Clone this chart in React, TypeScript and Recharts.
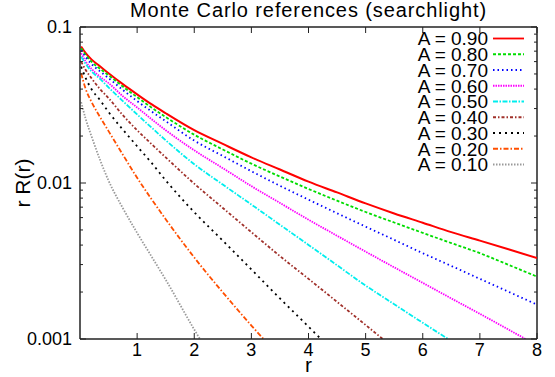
import React from 'react';
import { LineChart, Line, XAxis, YAxis, Legend, ReferenceLine } from 'recharts';

// radial distance r (shared by all curves)
const R = [0.02, 0.1, 0.2, 0.35, 0.5, 0.75, 1, 1.25, 1.5, 2, 2.5, 3, 3.5, 4, 4.5, 5, 5.5, 6, 6.5, 7, 7.5, 8];

// r R(r) for each albedo A (null = below the plot)
const A90 = [0.075, 0.068, 0.062, 0.056, 0.0505, 0.043, 0.037, 0.032, 0.028, 0.0218, 0.0178, 0.0146, 0.0122, 0.0102, 0.0087, 0.0074, 0.00638, 0.00556, 0.00484, 0.00427, 0.00376, 0.0033];
const A80 = [0.073, 0.066, 0.06, 0.054, 0.049, 0.0415, 0.0355, 0.0305, 0.0265, 0.0204, 0.0164, 0.0133, 0.011, 0.00916, 0.0077, 0.00652, 0.00558, 0.00479, 0.00412, 0.00355, 0.00299, 0.00251];
const A70 = [0.071, 0.064, 0.058, 0.052, 0.047, 0.0395, 0.0335, 0.0288, 0.0249, 0.0187, 0.0149, 0.0119, 0.0096, 0.00782, 0.0064, 0.00525, 0.00432, 0.00355, 0.00294, 0.00243, 0.00201, 0.00166];
const A60 = [0.068, 0.06, 0.054, 0.048, 0.0437, 0.036, 0.0305, 0.0257, 0.0218, 0.0162, 0.01245, 0.00955, 0.00745, 0.00582, 0.00459, 0.00363, 0.00288, 0.00229, 0.00182, 0.00145, 0.00115, 0.00091];
const A50 = [0.0645, 0.058, 0.052, 0.0465, 0.041, 0.0335, 0.0275, 0.0227, 0.0188, 0.0132, 0.00977, 0.00728, 0.0054, 0.00401, 0.00297, 0.0022, 0.00167, 0.00127, 0.00097, 0.00074, null, null];
const A40 = [0.06, 0.053, 0.047, 0.04, 0.035, 0.0272, 0.0218, 0.0178, 0.0146, 0.0099, 0.00692, 0.00484, 0.0034, 0.00243, 0.00173, 0.00123, 0.00087, null, null, null, null, null];
const A30 = [0.0557, 0.047, 0.04, 0.034, 0.0285, 0.022, 0.0172, 0.0135, 0.0104, 0.0065, 0.00427, 0.00279, 0.00182, 0.0012, 0.00079, null, null, null, null, null, null, null];
const A20 = [0.0505, 0.04, 0.0332, 0.0265, 0.0215, 0.0152, 0.0108, 0.0079, 0.00586, 0.00333, 0.00199, 0.00122, 0.00077, null, null, null, null, null, null, null, null, null];
const A10 = [0.033, 0.0257, 0.02, 0.0141, 0.01035, 0.0069, 0.00479, 0.00339, 0.0024, 0.00115, 0.00058, null, null, null, null, null, null, null, null, null, null, null];

const TITLE = 'Monte Carlo references (searchlight)';
const LABELS = ['A = 0.90', 'A = 0.80', 'A = 0.70', 'A = 0.60', 'A = 0.50', 'A = 0.40', 'A = 0.30', 'A = 0.20', 'A = 0.10'];
const X_TICKS = [1, 2, 3, 4, 5, 6, 7, 8];
const Y_TICKS = [
  0.001, 0.002, 0.003, 0.004, 0.005, 0.006, 0.007, 0.008, 0.009,
  0.01, 0.02, 0.03, 0.04, 0.05, 0.06, 0.07, 0.08, 0.09, 0.1,
];
const Y_MAJOR = [0.001, 0.01, 0.1];
const Y_MAJOR_LABELS = ['0.001', '0.01', '0.1'];

const VALUES = [A90, A80, A70, A60, A50, A40, A30, A20, A10];
const COLORS = ['#ff0000', '#00dd00', '#0000ff', '#ff00ff', '#00eeee', '#a0302a', '#000000', '#ff4f00', '#999999'];
const DASHES = [undefined, '3 2', '1.5 3', '1.5 1', '5 1.5 1.5 1.5', '3 2 1.5 2', '2 4', '5 2 1.5 2', '1.5 1.5'];

const data = R.map((r, i) => {
  const row: Record<string, number | null> = { r };
  VALUES.forEach((v, k) => { row['s' + k] = v[i]; });
  return row;
});

const FONT = '"Liberation Sans", Arial, Helvetica, sans-serif';
const INK = '#222';

const LeftTick = (props: any) => {
  const { x, y, payload } = props;
  const idx = Y_MAJOR.indexOf(payload.value);
  const ax = x + 8;
  return (
    <g>
      <line x1={ax} x2={ax + (idx >= 0 ? 6 : 3)} y1={y} y2={y} stroke={INK} strokeWidth={1} />
      {idx >= 0 && (
        <text x={x} y={y} dy="0.36em" textAnchor="end" fontSize={18} fontFamily={FONT} fill="#000">
          {Y_MAJOR_LABELS[idx]}
        </text>
      )}
    </g>
  );
};

const BottomTick = (props: any) => {
  const { x, y, payload } = props;
  return (
    <text x={x} y={y} dy="0.72em" textAnchor="middle" fontSize={18} fontFamily={FONT} fill="#000">
      {payload.value}
    </text>
  );
};

// mirrored ticks on the top and right borders (gnuplot style)
const topTick = (p: any) => {
  const top = Math.min(p.y1, p.y2);
  return <line x1={p.x1} x2={p.x1} y1={top} y2={top + 6} stroke={INK} strokeWidth={1} />;
};
const rightTick = (major: boolean) => (p: any) => {
  const right = Math.max(p.x1, p.x2);
  return <line x1={right} x2={right - (major ? 6 : 3)} y1={p.y1} y2={p.y1} stroke={INK} strokeWidth={1} />;
};

const LegendBox = () => (
  <svg width={140} height={156}>
    {LABELS.map((name, i) => {
      const y = 12.5 + i * 15.75;
      return (
        <g key={name}>
          <text x={88} y={y} dy="0.36em" textAnchor="end" fontSize={19} fontFamily={FONT} fill="#000">
            {name}
          </text>
          <line x1={93} x2={124} y1={y} y2={y} stroke={COLORS[i]} strokeWidth={1.8} strokeDasharray={DASHES[i]} />
        </g>
      );
    })}
  </svg>
);

export default function App() {
  return (
    <div style={{ position: 'absolute', left: 0, top: 0, width: 555, height: 377 }}>
      <svg width={555} height={27} style={{ position: 'absolute', left: 0, top: 0 }}>
        <text x={308.5} y={17} textAnchor="middle" fontSize={20} letterSpacing={0.9} fontFamily={FONT} fill="#000">
          {TITLE}
        </text>
      </svg>
      <LineChart width={555} height={377} data={data} margin={{ top: 27, right: 18, bottom: 0, left: 0 }}>
        <XAxis
          dataKey="r"
          type="number"
          domain={[0, 8]}
          ticks={X_TICKS}
          allowDataOverflow
          height={38}
          tickSize={-6}
          tickMargin={10}
          tick={BottomTick}
          interval={0}
          axisLine={{ stroke: INK, strokeWidth: 1.5 }}
          tickLine={{ stroke: INK }}
          label={{
            content: (p: any) => (
              <text x={p.viewBox.x + p.viewBox.width / 2} y={p.viewBox.y + 33} textAnchor="middle" fontSize={21} fontFamily={FONT} fill="#000">
                r
              </text>
            ),
          }}
        />
        <YAxis
          scale="log"
          type="number"
          domain={[0.001, 0.1]}
          ticks={Y_TICKS}
          allowDataOverflow
          width={80}
          tickSize={0}
          tickMargin={8}
          tick={LeftTick}
          tickLine={false}
          interval={0}
          axisLine={{ stroke: INK, strokeWidth: 1.5 }}
          label={{
            content: (p: any) => {
              const cx = p.viewBox.x + 22;
              const cy = p.viewBox.y + p.viewBox.height / 2;
              return (
                <text x={cx} y={cy} transform={`rotate(-90 ${cx} ${cy})`} textAnchor="middle" dominantBaseline="central" fontSize={21} fontFamily={FONT} fill="#000">
                  r R(r)
                </text>
              );
            },
          }}
        />
        <ReferenceLine y={0.1} stroke={INK} strokeWidth={1.5} ifOverflow="visible" />
        <ReferenceLine x={8} stroke={INK} strokeWidth={1.5} ifOverflow="visible" />
        {X_TICKS.map((t) => (
          <ReferenceLine key={'tx' + t} x={t} ifOverflow="visible" shape={topTick} />
        ))}
        {Y_TICKS.map((t) => (
          <ReferenceLine key={'ty' + t} y={t} ifOverflow="visible" shape={rightTick(Y_MAJOR.indexOf(t) >= 0)} />
        ))}
        <Legend
          layout="vertical"
          align="center"
          verticalAlign="middle"
          wrapperStyle={{ left: 400, top: 26, width: 140, height: 156 }}
          content={LegendBox}
        />
        {VALUES.map((_, k) => (
          <Line
            key={k}
            dataKey={'s' + k}
            name={LABELS[k]}
            type="monotone"
            stroke={COLORS[k]}
            strokeWidth={k === 0 ? 2 : 1.8}
            strokeDasharray={DASHES[k]}
            dot={false}
            activeDot={false}
            isAnimationActive={false}
          />
        ))}
      </LineChart>
    </div>
  );
}
